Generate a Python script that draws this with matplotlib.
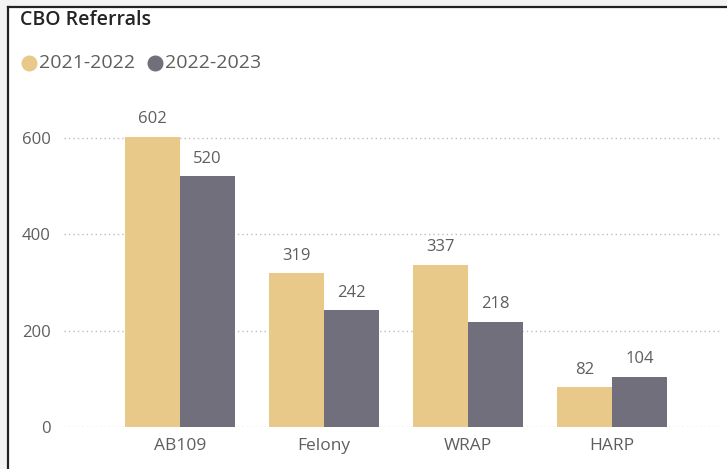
import matplotlib
matplotlib.use("Agg")
import matplotlib.pyplot as plt
from matplotlib.lines import Line2D
from matplotlib.patches import Rectangle
import numpy as np

categories = ["AB109", "Felony", "WRAP", "HARP"]
series_names = ["2021-2022", "2022-2023"]
values_2122 = [602, 319, 337, 82]
values_2223 = [520, 242, 218, 104]
yticks = [0, 200, 400, 600]

c1 = "#E8C98A"
c2 = "#706F7B"
txt = "#605E5C"

plt.rcParams['font.family'] = ['Open Sans', 'DejaVu Sans']

W, H = 727, 469
fig = plt.figure(figsize=(W/100, H/100), dpi=100)
fig.patch.set_facecolor("#F3F3F3")
# white panel with border
fig.add_artist(Rectangle((8/W, 0), 1, 1 - 7/H, transform=fig.transFigure,
                         facecolor="white", edgecolor="none", zorder=0))
fig.add_artist(Line2D([8/W, 8/W], [0, 1 - 7/H], transform=fig.transFigure,
                      color="#222222", lw=1.6))
fig.add_artist(Line2D([8/W, 1], [1 - 7/H, 1 - 7/H], transform=fig.transFigure,
                      color="#222222", lw=1.6))

left, right = 64/W, 722/W
bottom, top = 1 - 427/H, 1 - 110/H
ax = fig.add_axes([left, bottom, right - left, top - bottom])
ax.set_facecolor("none")

x = np.arange(len(categories))
bw = 0.38
b1 = ax.bar(x - bw/2, values_2122, bw, color=c1, zorder=3)
b2 = ax.bar(x + bw/2, values_2223, bw, color=c2, zorder=3)
for bars, vals in ((b1, values_2122), (b2, values_2223)):
    for r, v in zip(bars, vals):
        ax.annotate(str(v), (r.get_x() + r.get_width()/2, v), xytext=(0, 7),
                    textcoords="offset points", ha="center", va="bottom",
                    fontsize=12, color=txt)

ax.set_xlim(-0.806, 3.764)
ax.set_ylim(0, 658)
ax.set_yticks(yticks)
ax.set_yticklabels([str(t) for t in yticks], fontsize=12, color=txt)
ax.set_xticks(x)
ax.set_xticklabels(categories, fontsize=12.5, color=txt)
ax.tick_params(axis="both", length=0)
ax.tick_params(axis="y", pad=9.5)
ax.tick_params(axis="x", pad=8)
for s in ax.spines.values():
    s.set_visible(False)
ax.grid(axis="y", color="#BDBDBD", linestyle=(0, (1, 2.2)), linewidth=1, zorder=0)
ax.set_axisbelow(True)

fig.text(20/W, 1 - 20/H, "CBO Referrals", fontsize=14, color="#252423",
         ha="left", va="center", fontweight="semibold")
# legend
fig.add_artist(Line2D([29/W], [1 - 63/H], marker="o", markersize=10.5,
                      color=c1, transform=fig.transFigure, linestyle="none"))
fig.text(39/W, 1 - 63/H, series_names[0], fontsize=14, color=txt, ha="left", va="center")
fig.add_artist(Line2D([155/W], [1 - 63/H], marker="o", markersize=10.5,
                      color=c2, transform=fig.transFigure, linestyle="none"))
fig.text(165/W, 1 - 63/H, series_names[1], fontsize=14, color=txt, ha="left", va="center")

fig.savefig("out.png", dpi=100, facecolor=fig.get_facecolor())
